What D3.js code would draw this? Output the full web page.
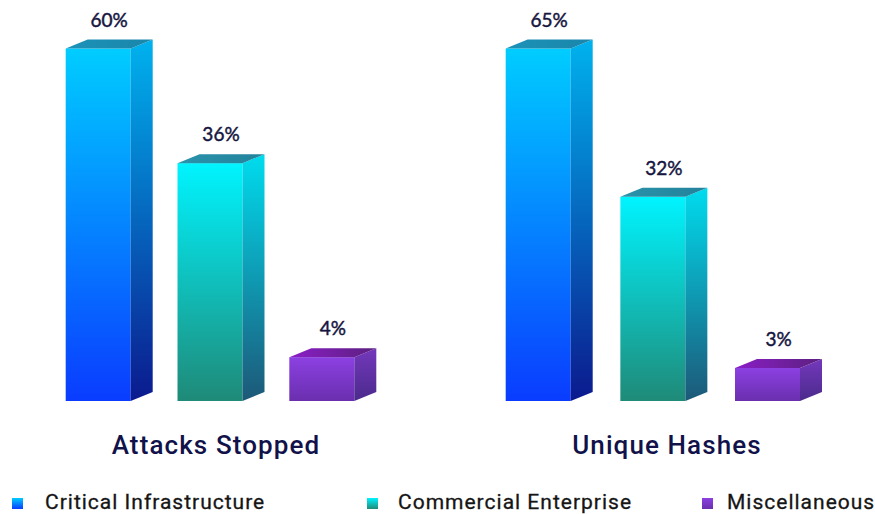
<!DOCTYPE html>
<html><head><meta charset="utf-8">
<script src="https://cdn.jsdelivr.net/npm/d3@7"></script>
<style>html,body{margin:0;padding:0;background:#fff;}svg{display:block;}</style>
</head><body>
<svg id="chart" width="875" height="514"></svg>
<script>
// ---- data ----
const groups = ["Attacks Stopped", "Unique Hashes"];
const categories = ["Critical Infrastructure", "Commercial Enterprise", "Miscellaneous"];
const attacksStopped = [60, 36, 4];
const uniqueHashes = [65, 32, 3];
const seriesByGroup = [attacksStopped, uniqueHashes];

// ---- layout / styles ----
const palette = {
  "Critical Infrastructure": {front:["#00cdff","#0a3cff"], side:["#00b2ee","#0b1a8e"], top:["#1c92b8","#1a86aa"]},
  "Commercial Enterprise":  {front:["#00f4ff","#1f8a78"], side:["#00dcee","#1d5878"], top:["#2a93ab","#23829c"]},
  "Miscellaneous":          {front:["#8c40e2","#6a2fae"], side:["#7438bc","#4b2a8c"], top:["#8a1ec6","#5c2080"]}
};
const groupBarRanges = [[65.7, 289.3], [505.7, 735]];
const legendPos = [[12, 45], [367, 398], [702, 727]];
const baseY = 401, maxH = 352.5, dx = 22, dy = 9, bw = 65;

const svg = d3.select("#chart");
const defs = svg.append("defs");
categories.forEach((c, i) => {
  ["front","side","top"].forEach(part => {
    const horiz = part === "top";
    const g = defs.append("linearGradient").attr("id", `g-${i}-${part}`)
      .attr("x1", 0).attr("y1", 0).attr("x2", horiz ? 1 : 0).attr("y2", horiz ? 0 : 1);
    g.append("stop").attr("offset", "0%").attr("stop-color", palette[c][part][0]);
    g.append("stop").attr("offset", "100%").attr("stop-color", palette[c][part][1]);
  });
});

const titleX = d3.scalePoint().domain(groups).range([216, 667]);

groups.forEach((gName, gi) => {
  const vals = seriesByGroup[gi];
  const y = d3.scalePow().exponent(0.77).domain([0, d3.max(vals)]).range([0, maxH]);
  const x = d3.scalePoint().domain(categories).range(groupBarRanges[gi]);
  const g = svg.append("g");
  const data = categories.map((c, i) => ({c, i, v: vals[i]}));

  const bars = g.selectAll("g.bar").data(data).join("g").attr("class", "bar");
  bars.append("rect")
    .attr("x", d => x(d.c)).attr("y", d => baseY - y(d.v))
    .attr("width", bw).attr("height", d => y(d.v))
    .attr("fill", d => `url(#g-${d.i}-front)`);
  bars.append("path")
    .attr("d", d => {
      const x1 = x(d.c) + bw, t = baseY - y(d.v);
      return `M${x1},${t}L${x1+dx},${t-dy}L${x1+dx},${baseY-dy}L${x1},${baseY}Z`;
    })
    .attr("fill", d => `url(#g-${d.i}-side)`);
  bars.append("path")
    .attr("d", d => {
      const x0 = x(d.c), t = baseY - y(d.v);
      return `M${x0},${t}L${x0+bw},${t}L${x0+bw+dx},${t-dy}L${x0+dx},${t-dy}Z`;
    })
    .attr("fill", d => `url(#g-${d.i}-top)`);
  bars.append("text")
    .attr("x", d => x(d.c) + (bw + dx) / 2)
    .attr("y", d => baseY - y(d.v) - dy - 13)
    .attr("text-anchor", "middle")
    .attr("font-family", "Lato, sans-serif").attr("font-size", 19).attr("font-weight", 400)
    .attr("fill", "#15153f").attr("stroke", "#15153f").attr("stroke-width", 0.45)
    .text(d => d.v + "%");

  g.append("text")
    .attr("x", titleX(gName))
    .attr("y", 454)
    .attr("text-anchor", "middle")
    .attr("font-family", "Roboto, sans-serif").attr("font-size", 26).attr("font-weight", 500)
    .attr("letter-spacing", "1.1px")
    .attr("fill", "#11124a")
    .text(gName);
});

// legend
const lg = svg.append("g").selectAll("g").data(categories).join("g");
lg.append("rect").attr("x", (c, i) => legendPos[i][0]).attr("y", 498).attr("width", 11).attr("height", 11)
  .attr("fill", (c, i) => `url(#g-${i}-front)`);
lg.append("text").attr("x", (c, i) => legendPos[i][1]).attr("y", 509)
  .attr("font-family", "Roboto, sans-serif").attr("font-size", 21).attr("font-weight", 400)
  .attr("letter-spacing", "1px")
  .attr("fill", "#151515").attr("stroke", "#151515").attr("stroke-width", 0.3)
  .text(c => c);
</script>
</body></html>
